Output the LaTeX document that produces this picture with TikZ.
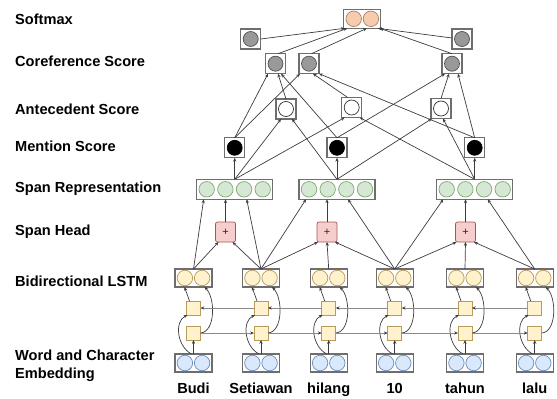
\documentclass[tikz,border=0pt]{standalone}
\usepackage{fontspec}
\setmainfont{Liberation Sans}
\usetikzlibrary{arrows.meta}
\definecolor{ylwF}{HTML}{FFF2CC}
\definecolor{ylwD}{HTML}{B89A5A}
\definecolor{bluF}{HTML}{DAE8FC}
\definecolor{bluD}{HTML}{6C8EBF}
\definecolor{grnF}{HTML}{D5E8D4}
\definecolor{grnD}{HTML}{7FA870}
\definecolor{pnkF}{HTML}{F8CECC}
\definecolor{pnkD}{HTML}{9E5A58}
\definecolor{orgF}{HTML}{F8CBAD}
\definecolor{orgD}{HTML}{A08470}
\definecolor{gryF}{HTML}{999999}
\definecolor{gryD}{HTML}{505050}
\definecolor{frameD}{HTML}{6E6E6E}
\definecolor{lineC}{HTML}{3C3C3C}
\definecolor{hlineC}{HTML}{8A8A8A}
\tikzset{
  txt/.style={font=\fontsize{14.6}{17.5}\selectfont\bfseries, inner sep=0pt, text=black},
  lbl/.style={txt, anchor=base west},
  word/.style={txt, anchor=base},
  frame/.style={draw=frameD, line width=1.1pt, fill=white, inner sep=0pt, outer sep=0pt},
  pairbox/.style={frame, minimum width=37pt, minimum height=18pt},
  spanbox/.style={frame, minimum width=76pt, minimum height=20pt},
  scorebox/.style={frame, minimum width=20pt, minimum height=20pt},
  dot/.style={circle, inner sep=0pt, outer sep=0pt, minimum size=15.5pt, line width=0.7pt},
  ydot/.style={dot, fill=ylwF, draw=ylwD},
  bdot/.style={dot, fill=bluF, draw=bluD},
  gdot/.style={dot, fill=grnF, draw=grnD},
  odot/.style={dot, fill=orgF, draw=orgD},
  sdot/.style={dot, minimum size=15pt, fill=gryF, draw=gryD},
  kdot/.style={dot, minimum size=15pt, fill=black, draw=black},
  wdot/.style={dot, minimum size=15pt, fill=white, draw=black!80},
  cell/.style={draw=ylwD, fill=ylwF, line width=0.7pt, minimum size=14pt, inner sep=0pt, outer sep=0pt},
  headbox/.style={draw=pnkD, fill=pnkF, line width=0.7pt, rounded corners=2pt, minimum size=20pt, inner sep=0pt, outer sep=0pt, font=\fontsize{11}{11}\selectfont, text=black!85},
  arr/.style={draw=lineC, line width=0.7pt, -{Stealth[length=3.8pt,width=3.2pt]}},
  harr/.style={draw=hlineC, line width=0.8pt, -{Stealth[length=3.8pt,width=3.2pt,color=lineC]}},
}
\begin{document}
\begin{tikzpicture}[x=1pt,y=-1pt]
\useasboundingbox (0,0) rectangle (557,399);
% layer labels
\node[lbl] (t1) at (15,24) {Softmax};
\node[lbl] (t2) at (15,66.7) {Coreference Score};
\node[lbl] (t3) at (15,114.3) {Antecedent Score};
\node[lbl] (t4) at (15,151.7) {Mention Score};
\node[lbl] (t5) at (15,192.2) {Span Representation};
\node[lbl] (t6) at (15,235) {Span Head};
\node[lbl] (t7) at (15,286.6) {Bidirectional LSTM};
\node[lbl] (t8) at (15,360.6) {Word and Character};
\node[lbl] (t9) at (15,378.9) {Embedding};

% word columns
\foreach \x/\w [count=\i] in {193.5/Budi,261/Setiawan,328.7/hilang,394.7/10,465/tahun,534.7/lalu}{
  \node[pairbox] (e\i) at (\x,363) {};
  \node[bdot] (e\i-a) at (\x-8.6,363) {};
  \node[bdot] (e\i-b) at (\x+8.6,363) {};
  \node[pairbox] (l\i) at (\x,278) {};
  \node[ydot] (l\i-a) at (\x-8.6,278) {};
  \node[ydot] (l\i-b) at (\x+8.6,278) {};
  \node[cell] (u\i) at (\x,308) {};
  \node[cell] (d\i) at (\x,333) {};
  \node[word] (w\i) at (\x,393.5) {\w};
  \draw[arr] (e\i.north) -- (d\i.south);
  \draw[arr] ([xshift=-2pt]e\i.north) .. controls (\x-17,346) and (\x-19,321) .. ([xshift=1pt]u\i.south west);
  \draw[arr] (d\i.east) .. controls (\x+22,332) and (\x+22,298) .. ([xshift=11pt]l\i.south);
  \draw[arr] ([xshift=3pt]u\i.north west) -- ([xshift=-9pt]l\i.south);
}
\foreach \i/\j in {1/2,2/3,3/4,4/5,5/6}{
  \draw[harr] (u\j.west) -- (u\i.east);
  \draw[harr] (d\i.east) -- (d\j.west);
}

% span heads
\foreach \x/\i in {225.5/1,327/2,465.5/3}{
  \node[headbox] (p\i) at (\x,232) {+};
}
% span representations and mention scores
\foreach \x/\i in {234.7/1,337/2,474.7/3}{
  \node[spanbox] (s\i) at (\x,189.3) {};
  \foreach \k [count=\n] in {-28,-9.33,9.33,28}{
    \node[gdot] (s\i-\n) at (\x+\k,189.3) {};
  }
  \node[scorebox] (m\i) at (\x,147.8) {};
  \node[kdot] (m\i-c) at (\x,147.8) {};
  \draw[arr] (s\i.north) -- (m\i.south);
}

\draw[arr] (l1.north) -- ([xshift=-31pt]s1.south);
\draw[arr] (l2.north) -- ([xshift=12pt]s1.south);
\draw[arr] (p1.north) -- (p1.north |- s1.south);
\draw[arr] (l1.north) -- ([xshift=3pt]p1.south west);
\draw[arr] (l2.north) -- ([xshift=-3pt]p1.south east);

\draw[arr] (l2.north) -- ([xshift=-31pt]s2.south);
\draw[arr] (l4.north) -- ([xshift=11pt]s2.south);
\draw[arr] (p2.north) -- (p2.north |- s2.south);
\draw[arr] (l2.north) -- ([xshift=1pt]p2.south west);
\draw[arr] (l3.north) -- (p2.south);
\draw[arr] (l4.north) -- ([xshift=-2pt]p2.south east);

\draw[arr] (l4.north) -- ([xshift=-31.5pt]s3.south);
\draw[arr] (l6.north) -- ([xshift=13pt]s3.south);
\draw[arr] (p3.north) -- (p3.north |- s3.south);
\draw[arr] (l4.north) -- ([xshift=1pt]p3.south west);
\draw[arr] (l5.north) -- (p3.south);
\draw[arr] (l6.north) -- ([xshift=-1.5pt]p3.south east);

% antecedent scores
\foreach \x/\y/\i in {286/109/1,351.7/107.5/2,441/108.5/3}{
  \node[scorebox] (a\i) at (\x,\y) {};
  \node[wdot] (a\i-c) at (\x,\y) {};
}
% coreference scores
\foreach \x/\i in {275.5/1,309/2,452/3}{
  \node[scorebox] (c\i) at (\x,63.7) {};
  \node[sdot] (c\i-c) at (\x,63.7) {};
}
% dummy scores
\foreach \x/\i in {250.7/0,462/4}{
  \node[scorebox] (g\i) at (\x,39) {};
  \node[sdot] (g\i-c) at (\x,39) {};
}
% softmax
\node[pairbox, minimum height=19pt] (sm) at (362.3,18.8) {};
\node[odot] (sm-a) at (362.3-8.6,18.8) {};
\node[odot] (sm-b) at (362.3+8.6,18.8) {};

% span -> antecedent
\draw[arr] (s1.north) -- ([xshift=-5pt]a1.south);
\draw[arr] (s2.north) -- ([xshift=6pt]a1.south);
\draw[arr] (s1.north) -- ([xshift=-7pt]a2.south);
\draw[arr] (s3.north) -- ([xshift=8pt]a2.south);
\draw[arr] (s2.north) -- ([xshift=-9pt]a3.south);
\draw[arr] (s3.north) -- ([xshift=2pt]a3.south);

% mention / antecedent -> coreference
\draw[arr] (m1.north) -- ([xshift=-7.5pt]c1.south);
\draw[arr] (a1.north) -- ([xshift=2.5pt]c1.south);
\draw[arr] (m2.north) -- ([xshift=5.5pt]c1.south);
\draw[arr] (m1.north) -- ([xshift=1pt]c2.south west);
\draw[arr] ([xshift=-4pt]a2.north) -- ([xshift=4pt]c2.south);
\draw[arr] (m3.north) -- ([xshift=10pt]c2.south);
\draw[arr] (m2.north) -- ([xshift=-7pt]c3.south);
\draw[arr] (a3.north) -- ([xshift=-3pt]c3.south);
\draw[arr] (m3.north) -- ([xshift=6pt]c3.south);

% scores -> softmax
\draw[arr] (g0.east) -- ([xshift=1pt]sm.south west);
\draw[arr] ([xshift=2.5pt]c1.north) -- ([xshift=3.5pt]sm.south west);
\draw[arr] ([xshift=2.5pt]c2.north) -- ([xshift=4.5pt]sm.south);
\draw[arr] ([yshift=1pt]g4.west) -- ([xshift=-3pt]sm.south east);
\draw[arr] (c3.north) -- ([xshift=-1pt]sm.south east);
\end{tikzpicture}
\end{document}
